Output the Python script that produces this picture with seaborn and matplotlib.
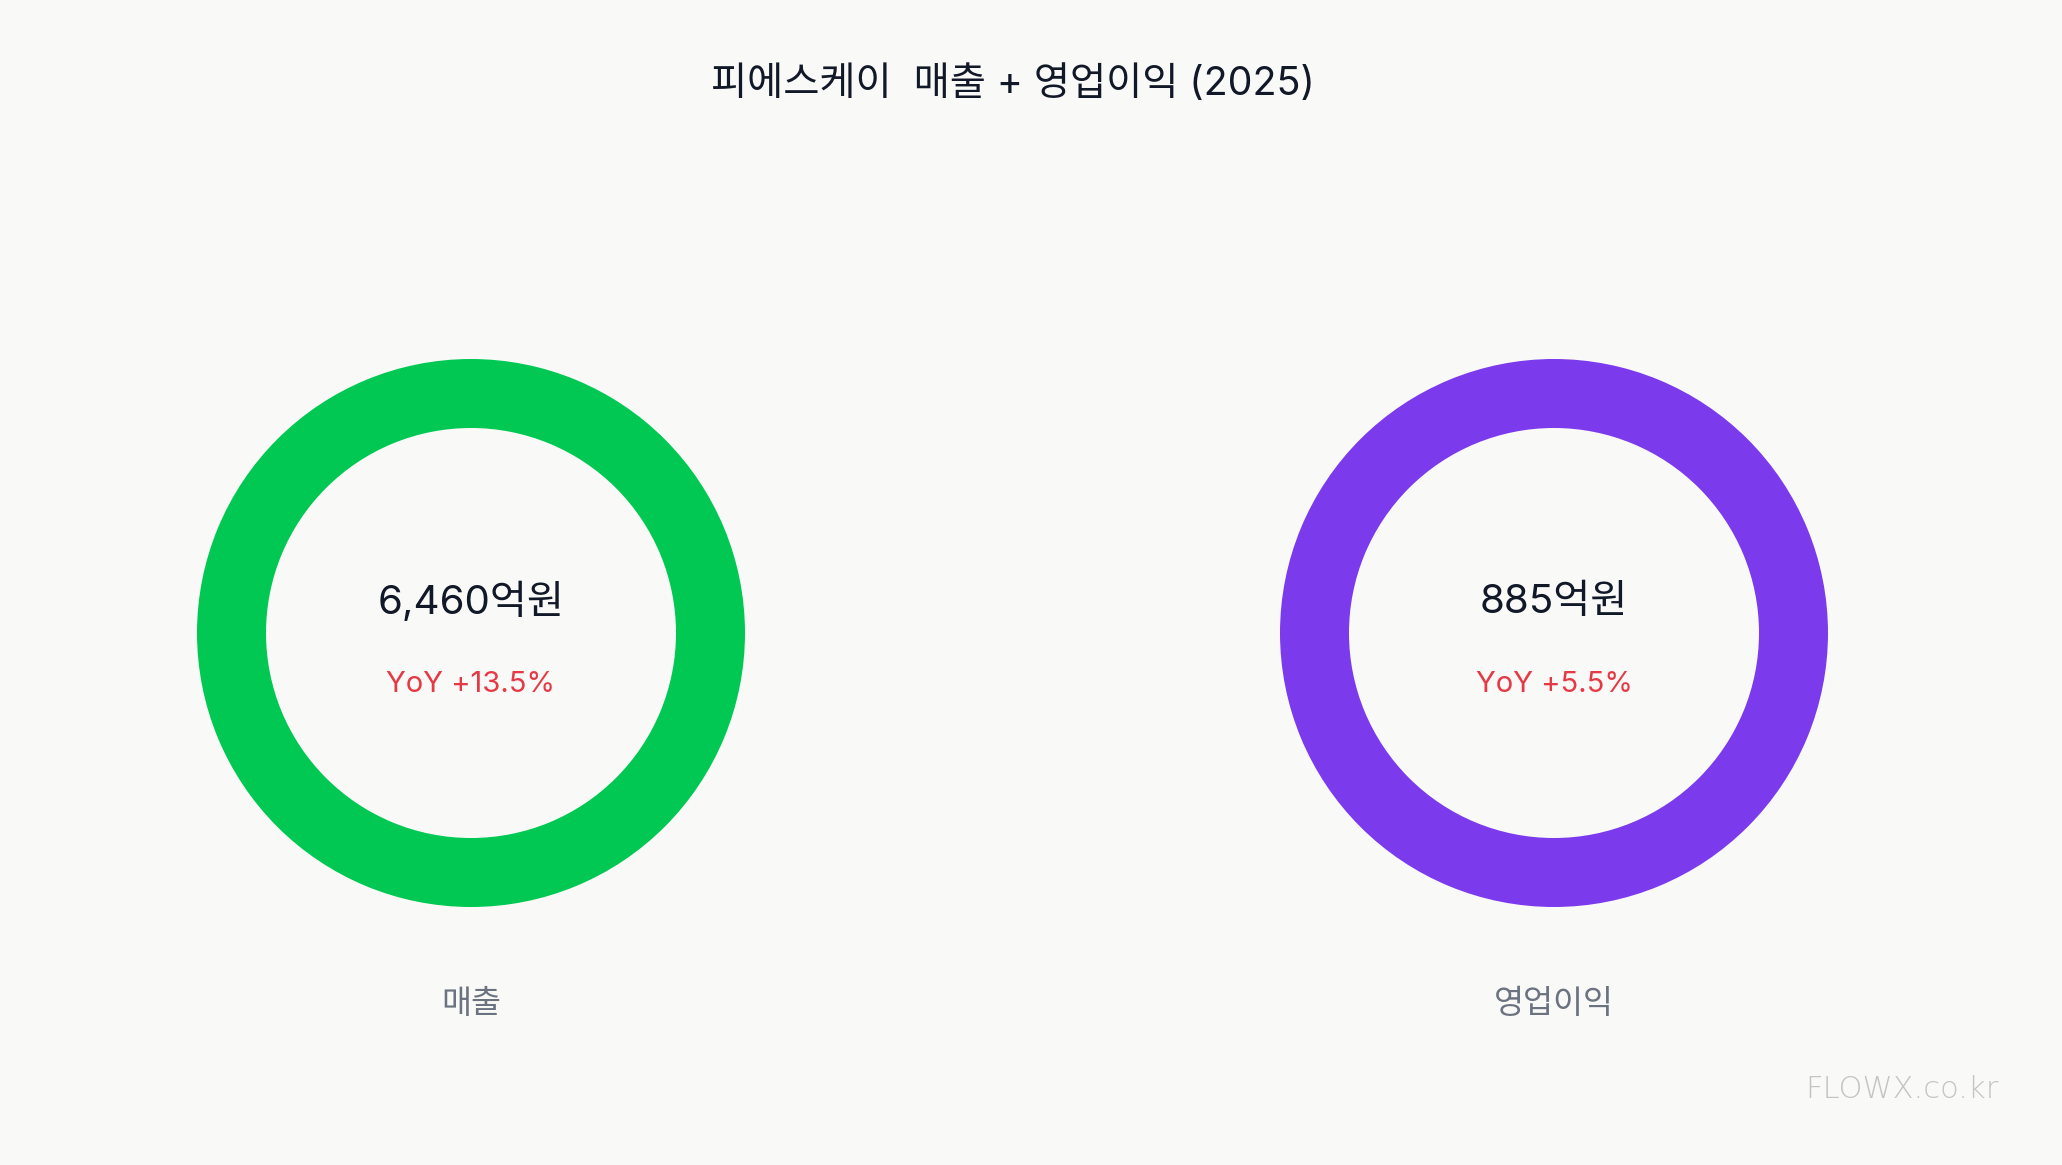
import matplotlib
matplotlib.use("Agg")
import matplotlib.pyplot as plt
import seaborn as sns

# Chart data
metrics = ["매출", "영업이익"]
values = [6460, 885]
value_labels = ["6,460억원", "885억원"]
yoy = [13.5, 5.5]
ring_colors = ["#00c853", "#7c3aed"]

title = "피에스케이  매출 + 영업이익 (2025)"

sns.set_theme(style="white")
plt.rcParams["font.family"] = ["Inter", "Noto Sans CJK KR", "DejaVu Sans"]

bg = "#f9f9f7"
W, H = 2062, 1165
fig = plt.figure(figsize=(W / 100, H / 100), dpi=100, facecolor=bg)

centers_px = [(471, 633), (1554, 633)]
outer_r = 274
inner_r = 205
box = 760  # axes size in px
lim = (box / 2) / outer_r

for i, (cx, cy) in enumerate(centers_px):
    ax = fig.add_axes([(cx - box / 2) / W, (H - cy - box / 2) / H, box / W, box / H])
    ax.set_facecolor(bg)
    ax.pie([values[i]], colors=[ring_colors[i]], radius=1.0, startangle=90,
           wedgeprops=dict(width=1 - inner_r / outer_r, linewidth=0))
    ax.set_xlim(-lim, lim)
    ax.set_ylim(-lim, lim)
    ax.set_aspect("equal")
    ax.axis("off")
    ax.text(0, 31 / outer_r, value_labels[i], ha="center", va="center",
            fontsize=29, color="#111827")
    ax.text(0, -51 / outer_r, f"YoY +{yoy[i]}%", ha="center", va="center",
            fontsize=21, color="#e63946")
    ax.text(0, -372 / outer_r, metrics[i], ha="center", va="center",
            fontsize=23.5, color="#6b7280", clip_on=False)

fig.text(1013 / W, 1 - 84 / H, title, ha="center", va="center",
         fontsize=28.3, color="#111827")
fig.text(1902 / W, 1 - 1089 / H, "FLOWX.co.kr", ha="center", va="center",
         fontsize=22, color="#c4c4c0", family="DejaVu Sans",
         fontweight="light")

fig.savefig("out.png", dpi=100, facecolor=bg)
